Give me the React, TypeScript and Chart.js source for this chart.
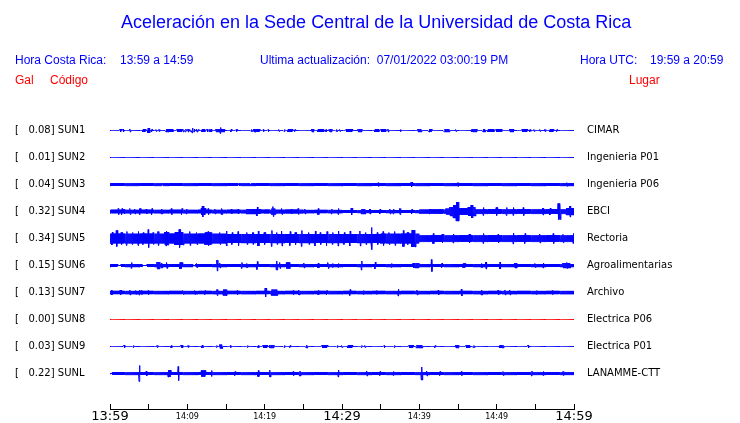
import React, { useEffect, useRef } from "react";
import { Chart, registerables } from "chart.js";

Chart.register(...registerables);

// ---------- data ----------
const CODES = ["SUN1", "SUN2", "SUN3", "SUN4", "SUN5", "SUN6", "SUN7", "SUN8", "SUN9", "SUNL"];
const GAL = [0.08, 0.01, 0.04, 0.32, 0.34, 0.15, 0.13, 0.0, 0.03, 0.22];
const PLACES = [
  "CIMAR", "Ingenieria P01", "Ingenieria P06", "EBCI", "Rectoria",
  "Agroalimentarias", "Archivo", "Electrica P06", "Electrica P01", "LANAMME-CTT",
];
const TRACE_COLORS = ["#0000ff", "#0000ff", "#0000ff", "#0000ff", "#0000ff", "#0000ff", "#0000ff", "#ff0000", "#0000ff", "#0000ff"];

const TICK_MINUTES = [0, 5, 10, 15, 20, 25, 30, 35, 40, 45, 50, 55, 60];
const TICK_LABELS = ["13:59", "", "14:09", "", "14:19", "", "14:29", "", "14:39", "", "14:49", "", "14:59"];
const MAJOR_LABELS = ["13:59", "14:29", "14:59"];

// Envelope (half amplitude, display units) per 5-minute segment
const BASE_SUN1 = [0, 0, 0, 0, 0, 0, 0, 0, 0, 0, 0, 0];
const BASE_SUN2 = [0, 0, 0, 0, 0, 0, 0, 0, 0, 0, 0, 0];
const BASE_SUN3 = [1.3, 1.3, 1.3, 1.3, 1.3, 1.3, 1.4, 1.4, 1.4, 1.4, 1.4, 1.4];
const BASE_SUN4 = [1.7, 1.7, 1.7, 1.7, 1.8, 1.6, 1.4, 1.5, 2.0, 2.2, 2.2, 2.2];
const BASE_SUN5 = [4.8, 4.8, 4.8, 4.5, 4.5, 4.5, 4.5, 4.8, 3.2, 3.2, 3.2, 3.2];
const BASE_SUN6 = [1.5, 1.5, 1.5, 1.5, 1.5, 1.5, 1.5, 1.5, 1.5, 1.5, 1.5, 1.5];
const BASE_SUN7 = [1.6, 1.6, 1.6, 1.6, 1.6, 1.6, 1.6, 1.6, 1.6, 1.6, 1.6, 1.6];
const BASE_SUN8 = [0, 0, 0, 0, 0, 0, 0, 0, 0, 0, 0, 0];
const BASE_SUN9 = [0, 0, 0, 0, 0, 0, 0, 0, 0, 0, 0, 0];
const BASE_SUNL = [1.3, 1.3, 1.3, 1.3, 1.3, 1.3, 1.3, 1.3, 1.3, 1.3, 1.3, 1.3];

// Bursts: [start minute, end minute, half amplitude]
const EVENTS_SUN1 = [
  [1.38, 1.38, 1.5], [1.72, 1.72, 1.5], [2.59, 2.59, 1.5], [4.3, 4.5, 1.5], [4.9, 5.1, 2.5],
  [5.39, 5.39, 1.5], [5.95, 5.95, 1], [6.38, 6.38, 1], [7.3, 8.1, 1.5], [8.7, 9.3, 1.5],
  [9.48, 9.48, 1.5], [9.79, 9.79, 1.5], [10.13, 10.13, 1.5], [10.35, 10.35, 1], [10.65, 10.65, 2.5],
  [10.9, 10.9, 1.5], [11.21, 11.21, 1.5], [11.42, 11.42, 1], [11.94, 12.2, 1.5], [12.58, 12.58, 1.5],
  [12.84, 12.84, 1], [13.06, 13.06, 1.5], [13.7, 14.8, 1.5], [14.27, 14.27, 3], [15.65, 15.65, 1.5],
  [16.38, 16.38, 1], [18.32, 18.32, 1], [18.6, 19.3, 1.5], [19.83, 19.83, 1], [20.47, 20.47, 1],
  [21.85, 21.85, 1], [22.54, 22.54, 1], [23.06, 23.5, 1.5], [23.92, 23.92, 1], [26.08, 26.3, 1.5],
  [26.94, 27.6, 1.5], [27.93, 27.93, 1], [28.36, 28.36, 1], [28.45, 28.67, 1.5], [29.31, 29.31, 1],
  [29.74, 29.74, 1], [30.6, 31.25, 1.5], [32.1, 32.55, 1.5], [34.27, 34.7, 1.5], [35.13, 35.56, 1.5],
  [35.99, 35.99, 1.5], [37.59, 37.59, 1], [39.87, 40.18, 1.5], [41.29, 41.51, 1.5], [43.32, 43.84, 1.5],
  [44.74, 44.74, 1], [46.77, 47.42, 1.5], [48.28, 48.49, 1.5], [48.92, 49.57, 1.5], [50.0, 50.65, 1.5],
  [51.73, 52.16, 1.5], [53.37, 53.88, 1.5], [54.31, 54.31, 1], [54.83, 54.83, 1], [55.6, 55.6, 1],
  [56.25, 56.25, 1], [56.9, 57.25, 1.5], [57.76, 57.76, 1],
];
const EVENTS_SUN2: number[][] = [];
const EVENTS_SUN3 = [[34.7, 34.7, 1.8], [39.0, 39.0, 2.5], [45.0, 45.0, 1.8], [59.1, 59.1, 1.8]];
const EVENTS_SUN4 = [
  [1.08, 1.08, 3], [1.51, 1.51, 3], [1.85, 1.85, 2.5], [2.59, 2.59, 3], [3.23, 3.23, 2.5], [3.88, 3.88, 3],
  [4.74, 4.74, 2.5], [5.39, 5.39, 3], [6.68, 6.68, 2.5], [7.98, 7.98, 3], [9.27, 9.27, 3], [9.91, 9.91, 2.5],
  [11.86, 12.28, 3.5], [12.0, 12.0, 5.5], [12.71, 12.71, 3], [13.58, 13.58, 2.5], [14.44, 14.44, 3],
  [15.74, 15.74, 2.5], [16.59, 16.59, 2.5], [17.68, 19.4, 2.5], [19.05, 19.05, 4.5], [20.91, 21.34, 3],
  [21.1, 21.1, 5], [22.2, 22.2, 3], [23.49, 23.49, 2.5], [24.35, 24.35, 3], [25.22, 25.22, 2.5],
  [26.94, 26.94, 3], [28.67, 28.67, 2.5], [29.53, 29.53, 3], [31.25, 31.25, 3.5], [32.55, 32.98, 2.5],
  [33.62, 33.62, 2.5], [34.91, 34.91, 2.5], [36.2, 36.2, 2.5], [36.64, 36.64, 2.5], [37.5, 37.5, 3],
  [39.01, 39.01, 2.5], [41.38, 41.38, 2.5], [42.67, 42.67, 2.5], [43.5, 44.0, 3], [44.0, 44.4, 4.5],
  [44.4, 44.8, 6.5], [44.8, 45.1, 9.5], [45.1, 46.34, 3.2], [46.34, 47.2, 4.5], [46.7, 46.9, 6.5],
  [48.28, 48.28, 4], [50.0, 50.0, 4], [51.3, 51.3, 4], [52.16, 52.16, 4], [53.45, 53.45, 4],
  [56.0, 56.0, 3.5], [56.9, 56.9, 3.5], [57.97, 58.19, 8], [59.05, 59.91, 3.5], [59.5, 59.5, 5.5],
];
const EVENTS_SUN5 = [
  [0.3, 0.3, 6.5], [0.87, 0.87, 8], [1.5, 1.5, 6], [2.16, 2.16, 7], [2.9, 2.9, 6], [3.66, 3.66, 7],
  [4.3, 4.3, 6], [4.95, 4.95, 9], [5.6, 5.6, 6], [6.25, 6.25, 7], [7.11, 7.54, 6.5], [7.3, 7.3, 7.5],
  [8.4, 9.48, 6.5], [9.0, 9.0, 9], [10.35, 10.35, 7], [11.2, 11.2, 6], [12.28, 13.15, 6], [12.7, 12.7, 7],
  [14.2, 14.2, 6], [15.09, 15.09, 7.5], [15.8, 15.8, 6], [16.59, 16.59, 7], [17.7, 17.7, 6],
  [18.5, 18.5, 6], [19.18, 19.18, 7.5], [20.0, 20.0, 6], [20.91, 20.91, 8], [21.6, 21.6, 6],
  [22.2, 22.2, 7.5], [23.28, 23.28, 7], [24.0, 24.0, 6], [24.79, 24.79, 8], [25.7, 25.7, 6],
  [26.51, 26.51, 7.5], [27.2, 27.2, 6], [28.02, 28.02, 7], [28.8, 28.8, 6], [29.53, 29.53, 7.5],
  [30.3, 30.3, 6], [31.03, 31.03, 7.5], [32.33, 32.33, 7.5], [33.1, 33.1, 6], [33.84, 33.84, 11],
  [34.6, 34.6, 6], [35.34, 35.34, 7], [36.1, 36.1, 6], [36.85, 36.85, 7], [37.93, 37.93, 8],
  [38.5, 38.5, 6], [39.01, 39.44, 8.5], [41.81, 41.81, 5], [43.0, 43.0, 4.2], [44.39, 44.39, 4.5],
  [46.5, 46.5, 4.2], [48.28, 48.28, 5], [50.2, 50.2, 4.2], [52.16, 52.16, 5.5], [53.66, 53.66, 5],
  [55.6, 55.6, 4.5], [57.33, 57.33, 5], [58.6, 58.6, 4.2], [59.91, 59.91, 5],
];
const EVENTS_SUN6 = [
  [2.8, 2.8, 3], [6.12, 6.38, 3.5], [6.68, 6.68, 2.5], [7.33, 7.33, 3], [9.05, 9.27, 3], [11.21, 11.21, 2],
  [13.88, 13.88, 5.5], [14.22, 14.22, 2.5], [17.03, 17.03, 3], [17.68, 17.68, 2], [19.05, 19.05, 4],
  [21.56, 21.56, 4.5], [21.98, 21.98, 3], [22.85, 23.18, 3], [25.09, 25.09, 2.5], [26.94, 26.94, 2.5],
  [28.23, 28.23, 3], [28.8, 28.8, 2], [29.53, 29.53, 2], [32.55, 32.55, 4.5], [34.27, 34.27, 3.5],
  [36.42, 36.42, 2], [39.22, 39.87, 2.5], [41.6, 41.6, 6], [42.89, 42.89, 2.5], [45.69, 45.9, 2],
  [48.06, 48.06, 2], [48.62, 48.62, 3.5], [50.43, 50.43, 3.5], [52.37, 52.59, 2.5], [54.96, 54.96, 2],
  [56.03, 56.03, 2.5], [58.62, 59.48, 2.5], [59.1, 59.1, 3],
];
const EVENTS_SUN7 = [
  [0.22, 0.22, 2.5], [1.38, 1.38, 2.5], [2.59, 2.59, 2.5], [3.36, 3.36, 2], [3.79, 3.79, 2.5], [4.1, 4.1, 2],
  [4.96, 4.96, 2], [9.48, 9.48, 2], [10.99, 10.99, 2], [12.28, 12.28, 2], [13.88, 13.88, 3],
  [14.66, 15.09, 3], [16.46, 16.46, 2], [20.13, 20.13, 4.5], [20.91, 21.56, 3], [23.71, 23.71, 2],
  [24.44, 24.44, 2.5], [26.94, 26.94, 2], [28.02, 28.02, 2], [31.03, 31.03, 3], [32.76, 32.76, 2],
  [34.49, 34.49, 1.8], [37.28, 37.28, 3.5], [39.74, 39.74, 2.5], [42.46, 42.46, 2.5], [45.48, 45.48, 3.5],
  [48.06, 48.06, 2.5], [50.22, 50.22, 2.5], [51.08, 51.08, 2.5], [51.73, 51.73, 2.5], [55.17, 55.17, 2],
  [57.24, 57.24, 2],
];
const EVENTS_SUN8: number[][] = [];
const EVENTS_SUN9 = [
  [1.85, 1.85, 1.5], [3.02, 3.02, 1], [6.12, 6.12, 1], [7.93, 7.93, 1], [9.2, 9.35, 1.5], [10.13, 10.13, 1],
  [11.94, 11.94, 1.5], [13.79, 13.79, 1], [14.22, 14.44, 2], [15.6, 15.6, 1], [17.76, 17.76, 1],
  [19.18, 19.18, 1], [19.83, 20.26, 1.5], [20.69, 21.12, 1.5], [22.54, 22.54, 1], [23.28, 23.28, 1],
  [25.43, 25.43, 1.5], [27.5, 28.02, 1.5], [29.4, 29.4, 1], [29.96, 29.96, 1], [30.82, 31.25, 1.5],
  [32.55, 32.55, 1], [32.98, 32.98, 1], [35.48, 35.48, 1], [36.77, 36.77, 1], [38.71, 39.14, 1.5],
  [39.66, 40.31, 1.5], [42.03, 42.03, 1], [44.74, 45.04, 1.5], [46.13, 46.46, 1.5], [47.07, 47.07, 1],
  [50.43, 50.86, 1.5], [54.1, 54.1, 1.5],
];
const EVENTS_SUNL = [
  [3.79, 3.79, 8], [4.74, 4.74, 2.5], [7.54, 7.76, 3.5], [8.83, 8.83, 7], [11.86, 12.28, 3], [13.15, 13.15, 3],
  [16.16, 16.16, 2], [19.18, 19.18, 3], [20.69, 20.69, 3.5], [23.71, 23.71, 2], [24.57, 24.57, 2.5],
  [29.53, 29.53, 3.5], [33.2, 33.2, 2.5], [34.91, 34.91, 2], [36.64, 36.64, 2], [40.31, 40.31, 6.5],
  [40.95, 40.95, 2.5], [42.67, 42.67, 2], [45.48, 45.48, 2], [50.86, 50.86, 2], [54.53, 54.53, 2.5],
  [56.03, 56.03, 2], [58.62, 58.62, 2],
];

// Quiet stretches (band thinner): [start, end, half amplitude]
const QUIET_SUN3 = [[3.75, 3.75, 0.3], [6.76, 6.76, 0.3], [16.59, 16.59, 0.3], [18.19, 18.19, 0.3]];
const QUIET_SUN6 = [[1.03, 1.38, 0.5], [4.23, 4.74, 0.5], [10.77, 11.0, 0.5]];
const QUIET_SUNL = [[0, 0.22, 0.4]];

const BASES = [BASE_SUN1, BASE_SUN2, BASE_SUN3, BASE_SUN4, BASE_SUN5, BASE_SUN6, BASE_SUN7, BASE_SUN8, BASE_SUN9, BASE_SUNL];
const EVENTS = [EVENTS_SUN1, EVENTS_SUN2, EVENTS_SUN3, EVENTS_SUN4, EVENTS_SUN5, EVENTS_SUN6, EVENTS_SUN7, EVENTS_SUN8, EVENTS_SUN9, EVENTS_SUNL];
const QUIETS: number[][][] = [[], [], QUIET_SUN3, [], [], QUIET_SUN6, [], [], [], QUIET_SUNL];

// ---------- rendering helpers ----------
const ROW_PX = 27; // vertical distance between traces
const STEP = 1 / 16; // minutes between drawn samples

function buildTrace(i: number) {
  const base = BASES[i];
  const events = EVENTS[i];
  const quiet = QUIETS[i];
  const pts: { x: number; y: number }[] = [];
  const n = Math.round(60 / STEP);
  for (let k = 0; k <= n; k++) {
    const t = k * STEP;
    let a = base[Math.min(11, Math.floor(t / 5))];
    for (const [s, e, amp] of events) {
      if (t >= s - 0.07 && t <= e + 0.07) a = Math.max(a, amp);
    }
    for (const [s, e, amp] of quiet) {
      if (t >= s - 0.05 && t <= e + 0.05) a = Math.min(a, amp);
    }
    const sign = k % 2 === 0 ? 1 : -1;
    pts.push({ x: t, y: i + (sign * a) / ROW_PX });
  }
  return pts;
}

const galLabel = (i: number) => `[${GAL[i].toFixed(2).padStart(7, " ")}] ${CODES[i]}`;

const Y_MIN = -27.5 / ROW_PX;
const Y_MAX = Y_MIN + 306 / ROW_PX;

const LABEL_FONT = "'DejaVu Sans', Verdana, sans-serif";

export default function App() {
  const ref = useRef<HTMLCanvasElement>(null);

  useEffect(() => {
    if (!ref.current) return;
    const rowTicks = (scale: any) => {
      scale.ticks = CODES.map((_, i) => ({ value: i }));
    };
    const fitRows = (w: number) => (s: any) => {
      s.width = w;
      s.paddingTop = 0;
      s.paddingBottom = 0;
    };
    const chart = new Chart(ref.current, {
      type: "line",
      data: {
        datasets: CODES.map((code, i) => ({
          label: code,
          data: buildTrace(i),
          borderColor: TRACE_COLORS[i],
          backgroundColor: TRACE_COLORS[i],
          borderWidth: 1,
          pointRadius: 0,
          fill: false,
          tension: 0,
          borderJoinStyle: "bevel" as const,
          xAxisID: "x",
          yAxisID: "y",
        })),
      },
      options: {
        responsive: false,
        animation: false,
        devicePixelRatio: 1,
        parsing: false,
        normalized: true,
        events: [],
        layout: { padding: { left: 15, top: 103, right: 0, bottom: 0 } },
        plugins: {
          legend: { display: false },
          tooltip: { enabled: false },
          title: { display: false },
        },
        scales: {
          x: {
            type: "linear",
            position: "bottom",
            min: 0,
            max: 60,
            afterBuildTicks: (s: any) => {
              s.ticks = TICK_MINUTES.map((v) => ({ value: v }));
            },
            afterFit: (s: any) => {
              s.height = 14;
              s.paddingLeft = 0;
              s.paddingRight = 0;
            },
            grid: { drawOnChartArea: false, drawTicks: true, tickLength: -5, color: "#000", lineWidth: 1 },
            border: { display: true, color: "#000", width: 1 },
            ticks: {
              autoSkip: false,
              maxRotation: 0,
              minRotation: 0,
              padding: 5,
              color: "#000",
              callback: (v: any) => {
                const idx = TICK_MINUTES.indexOf(Number(v));
                return idx >= 0 ? TICK_LABELS[idx] : "";
              },
              font: (ctx: any) => {
                const idx = TICK_MINUTES.indexOf(ctx.tick ? ctx.tick.value : -1);
                const lbl = idx >= 0 ? TICK_LABELS[idx] : "";
                return MAJOR_LABELS.includes(lbl)
                  ? { family: LABEL_FONT, size: 13, lineHeight: 1.2 }
                  : { family: LABEL_FONT, size: 8, lineHeight: 1.95 };
              },
            },
          },
          y: {
            type: "linear",
            position: "left",
            reverse: true,
            min: Y_MIN,
            max: Y_MAX,
            afterBuildTicks: rowTicks,
            afterFit: fitRows(95),
            grid: { display: false, drawTicks: false, tickLength: 0 },
            border: { display: false },
            ticks: {
              autoSkip: false,
              crossAlign: "far",
              padding: 0,
              color: "#000",
              font: { family: LABEL_FONT, size: 10 },
              callback: (v: any) => galLabel(Number(v)),
            },
          },
          y2: {
            type: "linear",
            position: "right",
            reverse: true,
            min: Y_MIN,
            max: Y_MAX,
            afterBuildTicks: rowTicks,
            afterFit: fitRows(166),
            grid: { display: false, drawTicks: false, tickLength: 0 },
            border: { display: false },
            ticks: {
              autoSkip: false,
              crossAlign: "near",
              padding: 13,
              color: "#000",
              font: { family: LABEL_FONT, size: 10 },
              callback: (v: any) => PLACES[Number(v)],
            },
          },
        },
      } as any,
    });
    return () => chart.destroy();
  }, []);

  const sans = "'Liberation Sans', Arial, Helvetica, sans-serif";
  const blue = "#0000ff";
  const red = "#ff0000";
  const txt = (left: number, top: number, size: number, color: string): React.CSSProperties => ({
    position: "absolute",
    left,
    top,
    fontSize: size,
    lineHeight: `${size}px`,
    color,
    whiteSpace: "pre",
    fontFamily: sans,
  });

  return (
    <div
      style={{
        position: "absolute",
        left: 0,
        top: 0,
        width: 740,
        height: 423,
        background: "#ffffff",
        overflow: "hidden",
      }}
    >
      <canvas
        ref={ref}
        width={740}
        height={423}
        style={{ position: "absolute", left: 0, top: 0, width: 740, height: 423 }}
      />
      <div style={txt(121, 13, 18, blue)}>Aceleración en la Sede Central de la Universidad de Costa Rica</div>
      <div style={txt(15, 54, 12, blue)}>Hora Costa Rica:</div>
      <div style={txt(120, 54, 12, blue)}>13:59 a 14:59</div>
      <div style={txt(260, 54, 12, blue)}>Ultima actualización:  07/01/2022 03:00:19 PM</div>
      <div style={txt(580, 54, 12, blue)}>Hora UTC:</div>
      <div style={txt(650, 54, 12, blue)}>19:59 a 20:59</div>
      <div style={txt(15, 74, 12, red)}>Gal</div>
      <div style={txt(50, 74, 12, red)}>Código</div>
      <div style={txt(629, 74, 12, red)}>Lugar</div>
    </div>
  );
}
